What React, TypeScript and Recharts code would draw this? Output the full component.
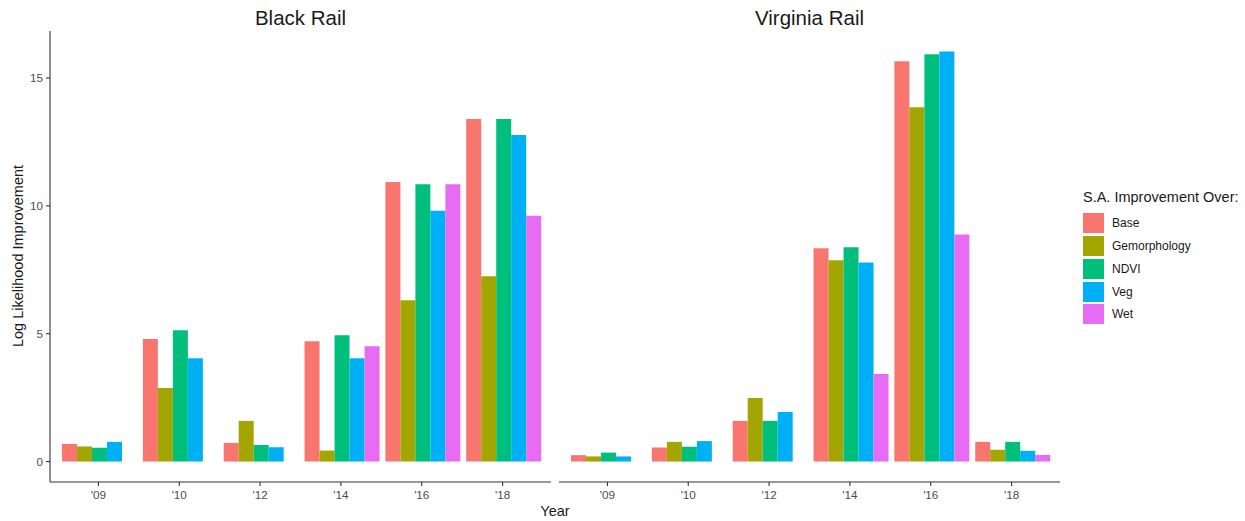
import { BarChart, Bar, XAxis, YAxis } from "recharts";

const YEARS = ["'09", "'10", "'12", "'14", "'16", "'18"];

const SERIES = ["Base", "Gemorphology", "NDVI", "Veg", "Wet"];

const COLORS: Record<string, string> = {
  Base: "#F8766D",
  Gemorphology: "#A3A500",
  NDVI: "#00BF7D",
  Veg: "#00B0F6",
  Wet: "#E76BF3",
};

// Black Rail
const blackBase = [0.69, 4.79, 0.73, 4.71, 10.93, 13.4];
const blackGem = [0.59, 2.88, 1.59, 0.43, 6.31, 7.25];
const blackNdvi = [0.54, 5.14, 0.65, 4.94, 10.85, 13.4];
const blackVeg = [0.77, 4.04, 0.56, 4.04, 9.81, 12.77];
const blackWet = [null, null, null, 4.51, 10.85, 9.61];

// Virginia Rail
const virginiaBase = [0.25, 0.55, 1.59, 8.34, 15.66, 0.77];
const virginiaGem = [0.2, 0.77, 2.49, 7.87, 13.86, 0.46];
const virginiaNdvi = [0.35, 0.58, 1.59, 8.38, 15.93, 0.77];
const virginiaVeg = [0.2, 0.8, 1.94, 7.79, 16.04, 0.42];
const virginiaWet = [null, null, null, 3.42, 8.88, 0.26];

const Y_TICKS = [0, 5, 10, 15];
const Y_DOMAIN = [-0.8, 16.84];

const FONT = "'Liberation Sans', Arial, sans-serif";
const LINE = "#333333";
const TICK_TEXT = "#4D4D4D";

function buildRows(cols: (number | null)[][]) {
  return YEARS.map((year, i) => {
    const row: Record<string, any> = { year };
    SERIES.forEach((s, j) => {
      row[s] = cols[j][i];
    });
    return row;
  });
}

const blackData = buildRows([blackBase, blackGem, blackNdvi, blackVeg, blackWet]);
const virginiaData = buildRows([
  virginiaBase,
  virginiaGem,
  virginiaNdvi,
  virginiaVeg,
  virginiaWet,
]);

const tickStyle = { fill: TICK_TEXT, fontSize: 11.7, fontFamily: FONT };

function Panel({
  data,
  width,
  showY,
  margin,
}: {
  data: any[];
  width: number;
  showY: boolean;
  margin: { top: number; right: number; bottom: number; left: number };
}) {
  return (
    <BarChart
      width={width}
      height={521}
      data={data}
      margin={margin}
      barCategoryGap="5%"
      barGap={0}
    >
      <XAxis
        dataKey="year"
        height={30}
        padding={{ left: 8, right: 8 }}
        tick={tickStyle}
        tickSize={4}
        tickMargin={5}
        axisLine={{ stroke: LINE, strokeWidth: 1.1 }}
        tickLine={{ stroke: LINE, strokeWidth: 1.1 }}
        interval={0}
      />
      <YAxis
        hide={!showY}
        width={50}
        type="number"
        domain={Y_DOMAIN}
        ticks={Y_TICKS}
        allowDataOverflow
        tick={tickStyle}
        tickSize={4}
        tickMargin={3}
        axisLine={{ stroke: LINE, strokeWidth: 1.1 }}
        tickLine={{ stroke: LINE, strokeWidth: 1.1 }}
      />
      {SERIES.map((s) => (
        <Bar key={s} dataKey={s} fill={COLORS[s]} isAnimationActive={false} />
      ))}
    </BarChart>
  );
}

export default function App() {
  return (
    <div
      style={{
        position: "absolute",
        left: 0,
        top: 0,
        width: 1245,
        height: 521,
        background: "#fff",
        fontFamily: FONT,
      }}
    >
      <div style={{ position: "absolute", left: 0, top: 0 }}>
        <Panel
          data={blackData}
          width={555}
          showY
          margin={{ top: 31, right: 4, bottom: 9, left: 0 }}
        />
      </div>
      <div style={{ position: "absolute", left: 555, top: 0 }}>
        <Panel
          data={virginiaData}
          width={510}
          showY={false}
          margin={{ top: 31, right: 5, bottom: 9, left: 4 }}
        />
      </div>

      {/* titles and axis labels */}
      <svg
        width={1245}
        height={521}
        style={{ position: "absolute", left: 0, top: 0, pointerEvents: "none" }}
      >
        <text x={300.5} y={25} textAnchor="middle" fontSize={20.5} fill="#1a1a1a" fontFamily={FONT}>
          Black Rail
        </text>
        <text x={809.5} y={25} textAnchor="middle" fontSize={20.5} fill="#1a1a1a" fontFamily={FONT}>
          Virginia Rail
        </text>
        <text x={555} y={516} textAnchor="middle" fontSize={14.5} fill="#1a1a1a" fontFamily={FONT}>
          Year
        </text>
        <text
          x={23}
          y={256}
          textAnchor="middle"
          fontSize={14.5}
          fill="#1a1a1a"
          fontFamily={FONT}
          transform="rotate(-90, 23, 256)"
        >
          Log Likelihood Improvement
        </text>
      </svg>

      {/* legend */}
      <div style={{ position: "absolute", left: 1083, top: 189, color: "#1a1a1a" }}>
        <div style={{ fontSize: 14.5, lineHeight: "17px", marginBottom: 6, whiteSpace: "nowrap" }}>
          S.A. Improvement Over:
        </div>
        {SERIES.map((s) => (
          <div
            key={s}
            style={{ display: "flex", alignItems: "center", height: 22.75 }}
          >
            <div style={{ width: 21, height: 20, background: COLORS[s] }} />
            <span style={{ fontSize: 12, marginLeft: 8 }}>{s}</span>
          </div>
        ))}
      </div>
    </div>
  );
}
